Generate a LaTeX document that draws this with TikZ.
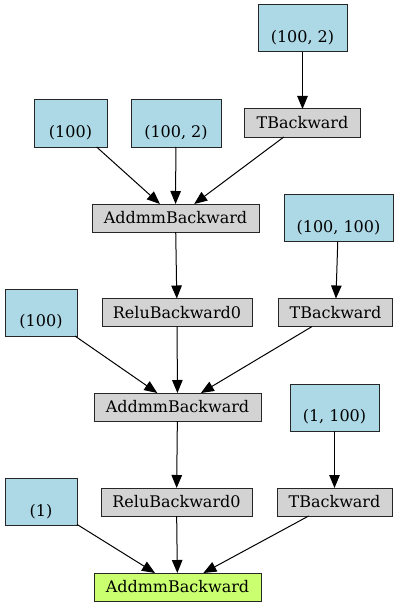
\documentclass[tikz,border=0pt]{standalone}
\usepackage{fontspec}
\setmainfont{DejaVu Serif}
\usetikzlibrary{arrows.meta}
\begin{document}
\begin{tikzpicture}[x=1pt,y=-1pt,
  box/.style={draw=black!85, line width=1pt, inner sep=0pt, outer sep=0pt, font=\fontsize{16}{18}\selectfont, align=center},
  var/.style={box, fill={rgb,255:red,173;green,216;blue,230}, minimum height=47pt},
  op/.style={box, fill={rgb,255:red,211;green,211;blue,211}, minimum height=28pt},
  fin/.style={box, fill={rgb,255:red,202;green,255;blue,112}, minimum height=28pt},
  edge/.style={line width=1pt, -{Triangle[length=13pt,width=10.5pt]}}]
\useasboundingbox (0,0) rectangle (401,607);
\node[var, minimum width=89pt] (inA) at (302.5,28.5) {\strut\\(100, 2)};
\node[op, minimum width=116pt] (t1) at (302.5,123) {TBackward};
\node[var, minimum width=73pt] (in1) at (70.5,123.5) {\strut\\(100)};
\node[var, minimum width=90pt] (in2) at (176,123.5) {\strut\\(100, 2)};
\node[op, minimum width=167pt] (add1) at (175.5,218) {AddmmBackward};
\node[var, minimum width=109pt] (in3) at (338.5,218) {\strut\\(100, 100)};
\node[op, minimum width=150pt] (relu1) at (177,312.5) {ReluBackward0};
\node[op, minimum width=114pt] (t2) at (335.5,312.5) {TBackward};
\node[var, minimum width=72pt] (in4) at (41,312.5) {\strut\\(100)};
\node[op, minimum width=167pt] (add2) at (177.5,407) {AddmmBackward};
\node[var, minimum width=89pt] (in5) at (334.5,407.5) {\strut\\(1, 100)};
\node[var, minimum width=72pt] (in6) at (41,502) {\strut\\(1)};
\node[op, minimum width=151pt] (relu2) at (176.5,502) {ReluBackward0};
\node[op, minimum width=115pt] (t3) at (334.5,502) {TBackward};
\node[fin, minimum width=167pt] (out) at (177.5,587) {AddmmBackward};
\draw[edge] (inA) -- (t1);
\draw[edge] (in1) -- (add1);
\draw[edge] (in2) -- (add1);
\draw[edge] (t1) -- (add1);
\draw[edge] (add1) -- (relu1);
\draw[edge] (in3) -- (t2);
\draw[edge] (in4) -- (add2);
\draw[edge] (relu1) -- (add2);
\draw[edge] (t2) -- (add2);
\draw[edge] (add2) -- (relu2);
\draw[edge] (in5) -- (t3);
\draw[edge] (in6) -- (out);
\draw[edge] (relu2) -- (out);
\draw[edge] (t3) -- (out);
\end{tikzpicture}
\end{document}
